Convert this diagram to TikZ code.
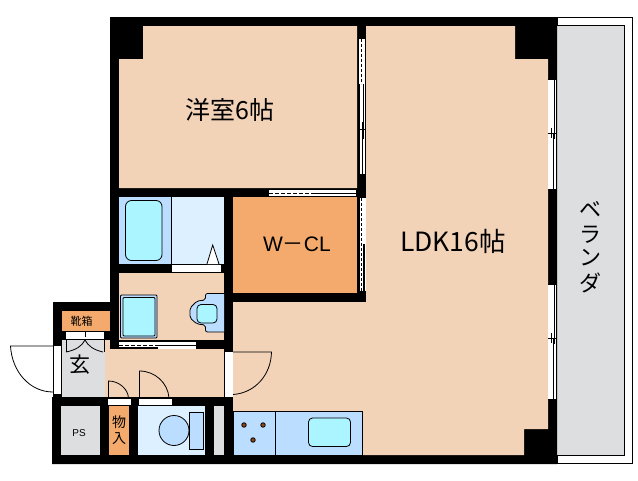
\documentclass[tikz,border=0pt]{standalone}
\usepackage{fontspec}
\setmainfont{Liberation Sans}
\newfontfamily\cjk{Noto Sans CJK JP}
\definecolor{roomc}{RGB}{242,211,184}
\definecolor{closetc}{RGB}{244,170,108}
\definecolor{bluec}{RGB}{187,221,255}
\definecolor{cyanc}{RGB}{170,245,255}
\definecolor{palec}{RGB}{221,240,255}
\definecolor{greyc}{RGB}{221,222,224}
\definecolor{dotc}{RGB}{140,70,20}
\begin{document}
\begin{tikzpicture}[x=1pt,y=-1pt,
    thinline/.style={draw=black,line width=0.8pt},
    fixture/.style={thinline,fill=bluec},
    basin/.style={thinline,fill=cyanc,rounded corners=4pt},
    slide/.style={fill=white,draw=none},
    burner/.style={circle,fill=dotc,draw=black,line width=0.8pt,inner sep=0pt,minimum size=4.5pt},
    bigtext/.style={font=\cjk\fontsize{25}{25}\selectfont,inner sep=0pt},
    midtext/.style={font=\cjk\fontsize{14}{14}\selectfont,inner sep=0pt}]
  \useasboundingbox (0,0) rectangle (638,480);
  \fill[white] (0,0) rectangle (638,480);

  \draw[thinline,fill=white] (557,17.5) rectangle (632.5,463.5);
  \fill[greyc] (557,25.5) rectangle (624.5,455);
  \draw[thinline] (557,25.5) -- (624.5,25.5) -- (624.5,455) -- (557,455);

  \fill[black] (110,17) -- (557,17) -- (557,464) -- (52,464) -- (52,397) -- (53,397)
    -- (53,302) -- (110,302) -- cycle;

  \fill[roomc] (143,26) -- (357,26) -- (357,188) -- (119,188) -- (119,59) -- (143,59) -- cycle;
  \fill[roomc] (366,26) -- (515,26) -- (515,59) -- (548,59) -- (548,429) -- (524,429)
    -- (524,455) -- (233,455) -- (233,302) -- (366,302) -- cycle;
  \fill[closetc] (233,197) rectangle (357,293);
  \fill[bluec] (119,197) rectangle (171.5,264);
  \fill[palec] (172,197) rectangle (224,264);
  \fill[roomc] (119,273) rectangle (224,340);
  \fill[roomc] (105,349) rectangle (224,397);
  \fill[roomc] (105,340) rectangle (110,349);
  \fill[greyc] (62,340) rectangle (104.5,397);
  \fill[closetc] (62,311) rectangle (110,331);
  \fill[greyc] (61,406) rectangle (100,455);
  \fill[closetc] (109,406) rectangle (129,455);
  \fill[palec] (138,406) rectangle (205,455);
  \fill[greyc] (214,406) rectangle (224,455);

  \draw[thinline] (171.7,197) -- (171.7,264);
  \draw[basin,rounded corners=6pt,fill=cyanc] (125.5,200.5) rectangle (162,260.5);
  \fill[white] (172,264.5) rectangle (220.7,272);
  \draw[thinline,fill=white] (207,264) -- (212.7,245) -- (219,264);

  \draw[fixture,rounded corners=1pt] (120.5,295) rectangle (157,338);
  \draw[basin,rounded corners=1pt] (123,297.5) rectangle (155,336);
  \draw[fixture,rounded corners=2pt] (224,293.5) -- (205.5,293.5) -- (205.5,300) -- (197,301)
    -- (190,308) -- (190,318) -- (197,324) -- (205.5,325) -- (205.5,332) -- (224,332);
  \draw[basin] (197,304.5) rectangle (217,323);

  \fill[white] (119,341.7) rectangle (196,349);
  \fill[black] (119,346.5) rectangle (158,349);
  \draw[thinline,dash pattern=on 4pt off 2pt] (119,345) -- (158,345);
  \draw[thinline] (158,345) -- (196,345);

  \fill[white] (269,190) rectangle (356,196);
  \draw[thinline,dash pattern=on 4pt off 2pt] (269,193) -- (313,193);
  \draw[thinline] (313,193) -- (356,193);

  \fill[white] (358.5,39) rectangle (365,173.5);
  \draw[thinline,dash pattern=on 3pt off 2pt] (361,39) -- (361,84);
  \draw[thinline] (363,84) -- (363,139) (359,84) -- (359,173.5) (358.5,129) -- (365,129)
    (362,122) -- (362,135) (362,129) -- (362,173.5);
  \fill[white] (358.5,198) rectangle (366,291);
  \draw[thinline,dash pattern=on 3pt off 2pt] (361.5,198) -- (361.5,291);
  \fill[black] (363,244) rectangle (365,291);
  \draw[thinline] (359,198) -- (359,291);

  \foreach \wy/\wb in {79/189,284/399}{
    \fill[white] (548,\wy) rectangle (557,\wb);
    \draw[thinline] (548,\wy) -- (557,\wy) (554.3,\wy) -- (554.3,{\wy+60}) (556,\wy) -- (556,\wb)
      (551.3,{\wy+49}) -- (551.3,{\wy+59}) (548,{\wy+54}) -- (556,{\wy+54})
      (553,{\wy+54}) -- (553,\wb);
  }
  \draw[thinline] (548,399) -- (557,399);

  \fill[white] (54,346) rectangle (61,394);
  \draw[thinline] (53,346) -- (10.5,346) .. controls (12,372) and (30,392) .. (53,392);

  \fill[white] (66,332) rectangle (104,339);
  \draw[thinline] (85,332) -- (85,337);
  \draw[thinline] (66,340) -- (66,352) (104,340) -- (104,352);
  \draw[thinline] (66,352) .. controls (76,350) and (82,346) .. (85,340)
    .. controls (88,346) and (94,350) .. (103,352);

  \fill[white] (224.5,352) rectangle (232.5,397);
  \draw[thinline] (233,394.5) .. controls (255,393) and (271,375) .. (271.5,352) -- (233,352);

  \fill[white] (108,398.5) rectangle (131,405);
  \fill[white] (139,398.5) rectangle (172,405);
  \draw[thinline] (108.5,398) -- (108.5,381) .. controls (119,381) and (128,389) .. (128.5,398);
  \draw[thinline] (139.5,398) -- (139.5,371) .. controls (155,371) and (168,383) .. (169,398);

  \draw[fixture] (174,430.5) circle[x radius=15,y radius=15];
  \draw[fixture] (189.5,412.5) rectangle (203.5,449);

  \draw[fixture] (233,411) rectangle (362.5,455);
  \draw[thinline] (275.5,411) -- (275.5,455);
  \draw[basin] (308.5,418) rectangle (350.5,446.5);
  \node[burner] (burnera) at (244,425) {};
  \node[burner] (burnerb) at (263,425) {};
  \node[burner] (burnerc) at (253,440) {};

  \node[bigtext] (western) at (230,110) {洋室6帖};
  \node[bigtext,font=\cjk\fontsize{26.5}{26.5}\selectfont] (ldk) at (453,241) {LDK16帖};
  \node[inner sep=0pt,font=\fontsize{21}{21}\selectfont] (wcl) at (297,244) {W{\cjk －}CL};
  \node[midtext,font=\cjk\fontsize{21}{21}\selectfont] (genkan) at (80,365) {玄};
  \node[midtext,font=\cjk\fontsize{11}{11}\selectfont] (shoes) at (81.5,321) {靴箱};
  \node[midtext] (mono) at (119,422) {物};
  \node[midtext] (iri) at (119,439) {入};
  \node[inner sep=0pt,font=\fontsize{10}{10}\selectfont] (ps) at (79,433) {PS};
  \foreach \tn/\ty/\tt in {be/209/ベ,ra/235/ラ,nn/258/ン,da/283/ダ}
    \node[bigtext,font=\cjk\fontsize{22}{22}\selectfont] (\tn) at (590,\ty) {\tt};
\end{tikzpicture}
\end{document}
